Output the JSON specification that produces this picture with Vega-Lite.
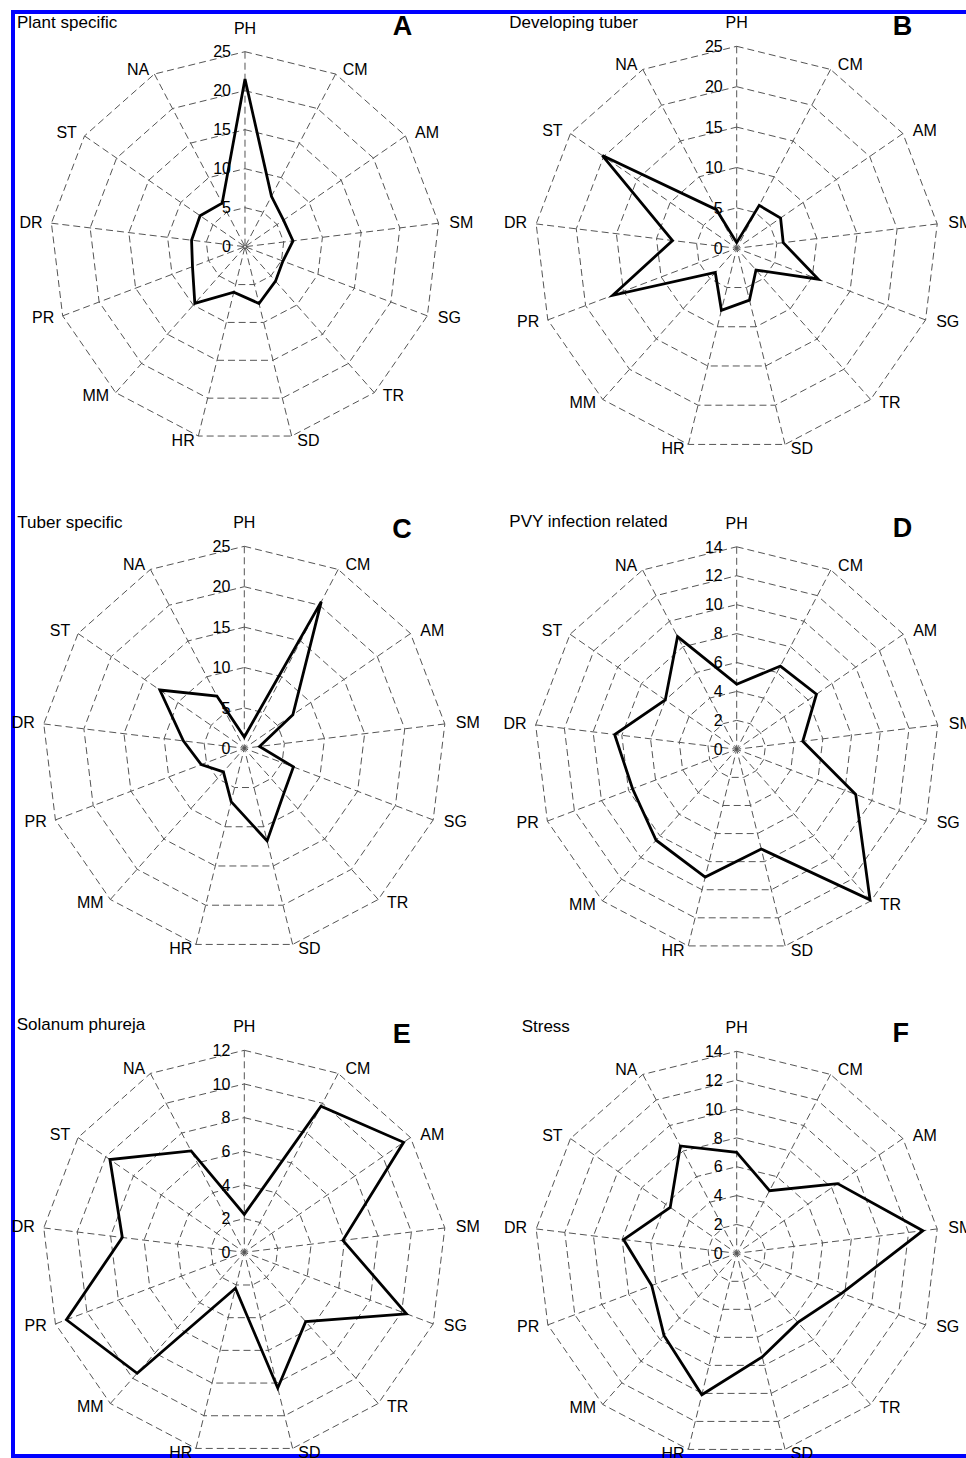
{
  "$schema": "https://vega.github.io/schema/vega-lite/v6.json",
  "width": 956,
  "height": 1444,
  "autosize": {"type": "none"},
  "padding": {"left": 13, "top": 12, "right": -3, "bottom": 2},
  "background": "#ffffff",
  "config": {
    "view": {"stroke": "#0000ff", "strokeWidth": 4},
    "text": {"font": "Liberation Sans", "color": "#000000"}
  },
  "datasets": {
    "axes": [
      {"axis": "PH", "k": 0}, {"axis": "CM", "k": 1}, {"axis": "AM", "k": 2}, {"axis": "SM", "k": 3},
      {"axis": "SG", "k": 4}, {"axis": "TR", "k": 5}, {"axis": "SD", "k": 6}, {"axis": "HR", "k": 7},
      {"axis": "MM", "k": 8}, {"axis": "PR", "k": 9}, {"axis": "DR", "k": 10}, {"axis": "ST", "k": 11},
      {"axis": "NA", "k": 12}
    ],
    "panels": [
      {"panel": "A", "title": "Plant specific", "letter": "A"},
      {"panel": "B", "title": "Developing tuber", "letter": "B"},
      {"panel": "C", "title": "Tuber specific", "letter": "C"},
      {"panel": "D", "title": "PVY infection related", "letter": "D"},
      {"panel": "E", "title": "Solanum phureja", "letter": "E"},
      {"panel": "F", "title": "Stress", "letter": "F"}
    ],
    "rings": [
      {"panel": "A", "level": 0, "k": [0,1,2,3,4,5,6,7,8,9,10,11,12]},
      {"panel": "A", "level": 5, "k": [0,1,2,3,4,5,6,7,8,9,10,11,12]},
      {"panel": "A", "level": 10, "k": [0,1,2,3,4,5,6,7,8,9,10,11,12]},
      {"panel": "A", "level": 15, "k": [0,1,2,3,4,5,6,7,8,9,10,11,12]},
      {"panel": "A", "level": 20, "k": [0,1,2,3,4,5,6,7,8,9,10,11,12]},
      {"panel": "A", "level": 25, "k": [0,1,2,3,4,5,6,7,8,9,10,11,12]},
      {"panel": "B", "level": 0, "k": [0,1,2,3,4,5,6,7,8,9,10,11,12]},
      {"panel": "B", "level": 5, "k": [0,1,2,3,4,5,6,7,8,9,10,11,12]},
      {"panel": "B", "level": 10, "k": [0,1,2,3,4,5,6,7,8,9,10,11,12]},
      {"panel": "B", "level": 15, "k": [0,1,2,3,4,5,6,7,8,9,10,11,12]},
      {"panel": "B", "level": 20, "k": [0,1,2,3,4,5,6,7,8,9,10,11,12]},
      {"panel": "B", "level": 25, "k": [0,1,2,3,4,5,6,7,8,9,10,11,12]},
      {"panel": "C", "level": 0, "k": [0,1,2,3,4,5,6,7,8,9,10,11,12]},
      {"panel": "C", "level": 5, "k": [0,1,2,3,4,5,6,7,8,9,10,11,12]},
      {"panel": "C", "level": 10, "k": [0,1,2,3,4,5,6,7,8,9,10,11,12]},
      {"panel": "C", "level": 15, "k": [0,1,2,3,4,5,6,7,8,9,10,11,12]},
      {"panel": "C", "level": 20, "k": [0,1,2,3,4,5,6,7,8,9,10,11,12]},
      {"panel": "C", "level": 25, "k": [0,1,2,3,4,5,6,7,8,9,10,11,12]},
      {"panel": "D", "level": 0, "k": [0,1,2,3,4,5,6,7,8,9,10,11,12]},
      {"panel": "D", "level": 2, "k": [0,1,2,3,4,5,6,7,8,9,10,11,12]},
      {"panel": "D", "level": 4, "k": [0,1,2,3,4,5,6,7,8,9,10,11,12]},
      {"panel": "D", "level": 6, "k": [0,1,2,3,4,5,6,7,8,9,10,11,12]},
      {"panel": "D", "level": 8, "k": [0,1,2,3,4,5,6,7,8,9,10,11,12]},
      {"panel": "D", "level": 10, "k": [0,1,2,3,4,5,6,7,8,9,10,11,12]},
      {"panel": "D", "level": 12, "k": [0,1,2,3,4,5,6,7,8,9,10,11,12]},
      {"panel": "D", "level": 14, "k": [0,1,2,3,4,5,6,7,8,9,10,11,12]},
      {"panel": "E", "level": 0, "k": [0,1,2,3,4,5,6,7,8,9,10,11,12]},
      {"panel": "E", "level": 2, "k": [0,1,2,3,4,5,6,7,8,9,10,11,12]},
      {"panel": "E", "level": 4, "k": [0,1,2,3,4,5,6,7,8,9,10,11,12]},
      {"panel": "E", "level": 6, "k": [0,1,2,3,4,5,6,7,8,9,10,11,12]},
      {"panel": "E", "level": 8, "k": [0,1,2,3,4,5,6,7,8,9,10,11,12]},
      {"panel": "E", "level": 10, "k": [0,1,2,3,4,5,6,7,8,9,10,11,12]},
      {"panel": "E", "level": 12, "k": [0,1,2,3,4,5,6,7,8,9,10,11,12]},
      {"panel": "F", "level": 0, "k": [0,1,2,3,4,5,6,7,8,9,10,11,12]},
      {"panel": "F", "level": 2, "k": [0,1,2,3,4,5,6,7,8,9,10,11,12]},
      {"panel": "F", "level": 4, "k": [0,1,2,3,4,5,6,7,8,9,10,11,12]},
      {"panel": "F", "level": 6, "k": [0,1,2,3,4,5,6,7,8,9,10,11,12]},
      {"panel": "F", "level": 8, "k": [0,1,2,3,4,5,6,7,8,9,10,11,12]},
      {"panel": "F", "level": 10, "k": [0,1,2,3,4,5,6,7,8,9,10,11,12]},
      {"panel": "F", "level": 12, "k": [0,1,2,3,4,5,6,7,8,9,10,11,12]},
      {"panel": "F", "level": 14, "k": [0,1,2,3,4,5,6,7,8,9,10,11,12]}
    ],
    "profiles": [
      {"panel": "A", "axis": "PH", "k": 0, "value": 21.5},
      {"panel": "A", "axis": "CM", "k": 1, "value": 7.3},
      {"panel": "A", "axis": "AM", "k": 2, "value": 6.0},
      {"panel": "A", "axis": "SM", "k": 3, "value": 6.2},
      {"panel": "A", "axis": "SG", "k": 4, "value": 5.2},
      {"panel": "A", "axis": "TR", "k": 5, "value": 5.9},
      {"panel": "A", "axis": "SD", "k": 6, "value": 7.5},
      {"panel": "A", "axis": "HR", "k": 7, "value": 6.0},
      {"panel": "A", "axis": "MM", "k": 8, "value": 9.7},
      {"panel": "A", "axis": "PR", "k": 9, "value": 7.2},
      {"panel": "A", "axis": "DR", "k": 10, "value": 6.9},
      {"panel": "A", "axis": "ST", "k": 11, "value": 7.0},
      {"panel": "A", "axis": "NA", "k": 12, "value": 6.3},
      {"panel": "B", "axis": "PH", "k": 0, "value": 0.7},
      {"panel": "B", "axis": "CM", "k": 1, "value": 6.0},
      {"panel": "B", "axis": "AM", "k": 2, "value": 6.6},
      {"panel": "B", "axis": "SM", "k": 3, "value": 5.8},
      {"panel": "B", "axis": "SG", "k": 4, "value": 10.8},
      {"panel": "B", "axis": "TR", "k": 5, "value": 3.6},
      {"panel": "B", "axis": "SD", "k": 6, "value": 6.6},
      {"panel": "B", "axis": "HR", "k": 7, "value": 7.9},
      {"panel": "B", "axis": "MM", "k": 8, "value": 4.0},
      {"panel": "B", "axis": "PR", "k": 9, "value": 16.4},
      {"panel": "B", "axis": "DR", "k": 10, "value": 8.0},
      {"panel": "B", "axis": "ST", "k": 11, "value": 20.2},
      {"panel": "B", "axis": "NA", "k": 12, "value": 5.4},
      {"panel": "C", "axis": "PH", "k": 0, "value": 1.4},
      {"panel": "C", "axis": "CM", "k": 1, "value": 20.5},
      {"panel": "C", "axis": "AM", "k": 2, "value": 7.3},
      {"panel": "C", "axis": "SM", "k": 3, "value": 1.9},
      {"panel": "C", "axis": "SG", "k": 4, "value": 6.5},
      {"panel": "C", "axis": "TR", "k": 5, "value": 7.4},
      {"panel": "C", "axis": "SD", "k": 6, "value": 11.8},
      {"panel": "C", "axis": "HR", "k": 7, "value": 6.8},
      {"panel": "C", "axis": "MM", "k": 8, "value": 3.9},
      {"panel": "C", "axis": "PR", "k": 9, "value": 5.7},
      {"panel": "C", "axis": "DR", "k": 10, "value": 7.6},
      {"panel": "C", "axis": "ST", "k": 11, "value": 12.7},
      {"panel": "C", "axis": "NA", "k": 12, "value": 7.3},
      {"panel": "D", "axis": "PH", "k": 0, "value": 4.5},
      {"panel": "D", "axis": "CM", "k": 1, "value": 6.5},
      {"panel": "D", "axis": "AM", "k": 2, "value": 6.7},
      {"panel": "D", "axis": "SM", "k": 3, "value": 4.6},
      {"panel": "D", "axis": "SG", "k": 4, "value": 8.8},
      {"panel": "D", "axis": "TR", "k": 5, "value": 13.9},
      {"panel": "D", "axis": "SD", "k": 6, "value": 7.1},
      {"panel": "D", "axis": "HR", "k": 7, "value": 9.1},
      {"panel": "D", "axis": "MM", "k": 8, "value": 8.4},
      {"panel": "D", "axis": "PR", "k": 9, "value": 7.7},
      {"panel": "D", "axis": "DR", "k": 10, "value": 8.5},
      {"panel": "D", "axis": "ST", "k": 11, "value": 6.0},
      {"panel": "D", "axis": "NA", "k": 12, "value": 8.8},
      {"panel": "E", "axis": "PH", "k": 0, "value": 2.25},
      {"panel": "E", "axis": "CM", "k": 1, "value": 9.8},
      {"panel": "E", "axis": "AM", "k": 2, "value": 11.5},
      {"panel": "E", "axis": "SM", "k": 3, "value": 5.9},
      {"panel": "E", "axis": "SG", "k": 4, "value": 10.3},
      {"panel": "E", "axis": "TR", "k": 5, "value": 5.5},
      {"panel": "E", "axis": "SD", "k": 6, "value": 8.3},
      {"panel": "E", "axis": "HR", "k": 7, "value": 2.2},
      {"panel": "E", "axis": "MM", "k": 8, "value": 9.6},
      {"panel": "E", "axis": "PR", "k": 9, "value": 11.3},
      {"panel": "E", "axis": "DR", "k": 10, "value": 7.3},
      {"panel": "E", "axis": "ST", "k": 11, "value": 9.7},
      {"panel": "E", "axis": "NA", "k": 12, "value": 6.8},
      {"panel": "F", "axis": "PH", "k": 0, "value": 7.0},
      {"panel": "F", "axis": "CM", "k": 1, "value": 4.9},
      {"panel": "F", "axis": "AM", "k": 2, "value": 8.5},
      {"panel": "F", "axis": "SM", "k": 3, "value": 13.0},
      {"panel": "F", "axis": "SG", "k": 4, "value": 7.8},
      {"panel": "F", "axis": "TR", "k": 5, "value": 6.4},
      {"panel": "F", "axis": "SD", "k": 6, "value": 7.4},
      {"panel": "F", "axis": "HR", "k": 7, "value": 10.1},
      {"panel": "F", "axis": "MM", "k": 8, "value": 7.6},
      {"panel": "F", "axis": "PR", "k": 9, "value": 6.3},
      {"panel": "F", "axis": "DR", "k": 10, "value": 7.9},
      {"panel": "F", "axis": "ST", "k": 11, "value": 5.6},
      {"panel": "F", "axis": "NA", "k": 12, "value": 8.4}
    ]
  },
  "resolve": {"scale": {"x": "independent", "y": "independent"}},
  "layer": [
    {
      "encoding": {
        "x": {"field": "px", "type": "quantitative", "axis": null, "scale": {"domain": [-1.18974, 3.71282], "nice": false, "zero": false}},
        "y": {"field": "py", "type": "quantitative", "axis": null, "scale": {"domain": [-6.20154, 1.20359], "nice": false, "zero": false}}
      },
      "layer": [
        {"data": {"name": "rings"}, "transform": [{"filter": "datum.panel === 'A' && datum.level > 0"}, {"flatten": ["k"]}, {"calculate": "datum.level / 25 * sin(datum.k * 2 * PI / 13)", "as": "px"}, {"calculate": "datum.level / 25 * cos(datum.k * 2 * PI / 13)", "as": "py"}],
         "mark": {"type": "line", "interpolate": "linear-closed", "stroke": "#555555", "strokeWidth": 1, "strokeDash": [7, 4]},
         "encoding": {"detail": {"field": "level", "type": "nominal"}, "order": {"field": "k", "type": "quantitative"}}},
        {"data": {"name": "axes"}, "transform": [{"calculate": "sin(datum.k * 2 * PI / 13)", "as": "px"}, {"calculate": "cos(datum.k * 2 * PI / 13)", "as": "py"}],
         "mark": {"type": "rule", "stroke": "#555555", "strokeWidth": 1, "strokeDash": [7, 4]},
         "encoding": {"x2": {"datum": 0}, "y2": {"datum": 0}}},
        {"data": {"name": "profiles"}, "transform": [{"filter": "datum.panel === 'A'"}, {"calculate": "datum.value / 25 * sin(datum.k * 2 * PI / 13)", "as": "px"}, {"calculate": "datum.value / 25 * cos(datum.k * 2 * PI / 13)", "as": "py"}],
         "mark": {"type": "line", "interpolate": "linear-closed", "stroke": "#000000", "strokeWidth": 2.8, "strokeJoin": "miter"},
         "encoding": {"order": {"field": "k", "type": "quantitative"}}},
        {"data": {"name": "axes"}, "transform": [{"filter": "datum.k >= 1 && datum.k <= 6"}, {"calculate": "1.035 * sin(datum.k * 2 * PI / 13)", "as": "px"}, {"calculate": "1.025 * cos(datum.k * 2 * PI / 13)", "as": "py"}],
         "mark": {"type": "text", "align": "left", "baseline": "alphabetic", "dx": 4, "dy": 5, "fontSize": 16},
         "encoding": {"text": {"field": "axis", "type": "nominal"}}},
        {"data": {"name": "axes"}, "transform": [{"filter": "datum.k >= 7"}, {"calculate": "1.035 * sin(datum.k * 2 * PI / 13)", "as": "px"}, {"calculate": "1.025 * cos(datum.k * 2 * PI / 13)", "as": "py"}],
         "mark": {"type": "text", "align": "right", "baseline": "alphabetic", "dx": -2, "dy": 5, "fontSize": 16},
         "encoding": {"text": {"field": "axis", "type": "nominal"}}},
        {"data": {"name": "axes"}, "transform": [{"filter": "datum.k === 0"}, {"calculate": "0", "as": "px"}, {"calculate": "1.025", "as": "py"}],
         "mark": {"type": "text", "align": "center", "baseline": "alphabetic", "dy": -13, "fontSize": 16},
         "encoding": {"text": {"field": "axis", "type": "nominal"}}},
        {"data": {"name": "rings"}, "transform": [{"filter": "datum.panel === 'A'"}, {"calculate": "0", "as": "px"}, {"calculate": "datum.level / 25", "as": "py"}],
         "mark": {"type": "text", "align": "right", "baseline": "alphabetic", "dx": -14, "dy": 5.7, "fontSize": 16},
         "encoding": {"text": {"field": "level", "type": "nominal"}}},
        {"data": {"name": "panels"}, "transform": [{"filter": "datum.panel === 'A'"}, {"calculate": "-1.1692", "as": "px"}, {"calculate": "1.12", "as": "py"}],
         "mark": {"type": "text", "align": "left", "baseline": "alphabetic", "fontSize": 17},
         "encoding": {"text": {"field": "title", "type": "nominal"}}},
        {"data": {"name": "panels"}, "transform": [{"filter": "datum.panel === 'A'"}, {"calculate": "0.8077", "as": "px"}, {"calculate": "1.086", "as": "py"}],
         "mark": {"type": "text", "align": "center", "baseline": "alphabetic", "fontSize": 27, "fontWeight": "bold"},
         "encoding": {"text": {"field": "letter", "type": "nominal"}}}
      ]
    },
    {
      "encoding": {
        "x": {"field": "px", "type": "quantitative", "axis": null, "scale": {"domain": [-3.58267, 1.15], "nice": false, "zero": false}},
        "y": {"field": "py", "type": "quantitative", "axis": null, "scale": {"domain": [-5.97871, 1.16980], "nice": false, "zero": false}}
      },
      "layer": [
        {"data": {"name": "rings"}, "transform": [{"filter": "datum.panel === 'B' && datum.level > 0"}, {"flatten": ["k"]}, {"calculate": "datum.level / 25 * sin(datum.k * 2 * PI / 13)", "as": "px"}, {"calculate": "datum.level / 25 * cos(datum.k * 2 * PI / 13)", "as": "py"}],
         "mark": {"type": "line", "interpolate": "linear-closed", "stroke": "#555555", "strokeWidth": 1, "strokeDash": [7, 4]},
         "encoding": {"detail": {"field": "level", "type": "nominal"}, "order": {"field": "k", "type": "quantitative"}}},
        {"data": {"name": "axes"}, "transform": [{"calculate": "sin(datum.k * 2 * PI / 13)", "as": "px"}, {"calculate": "cos(datum.k * 2 * PI / 13)", "as": "py"}],
         "mark": {"type": "rule", "stroke": "#555555", "strokeWidth": 1, "strokeDash": [7, 4]},
         "encoding": {"x2": {"datum": 0}, "y2": {"datum": 0}}},
        {"data": {"name": "profiles"}, "transform": [{"filter": "datum.panel === 'B'"}, {"calculate": "datum.value / 25 * sin(datum.k * 2 * PI / 13)", "as": "px"}, {"calculate": "datum.value / 25 * cos(datum.k * 2 * PI / 13)", "as": "py"}],
         "mark": {"type": "line", "interpolate": "linear-closed", "stroke": "#000000", "strokeWidth": 2.8, "strokeJoin": "miter"},
         "encoding": {"order": {"field": "k", "type": "quantitative"}}},
        {"data": {"name": "axes"}, "transform": [{"filter": "datum.k >= 1 && datum.k <= 6"}, {"calculate": "1.035 * sin(datum.k * 2 * PI / 13)", "as": "px"}, {"calculate": "1.025 * cos(datum.k * 2 * PI / 13)", "as": "py"}],
         "mark": {"type": "text", "align": "left", "baseline": "alphabetic", "dx": 4, "dy": 5, "fontSize": 16},
         "encoding": {"text": {"field": "axis", "type": "nominal"}}},
        {"data": {"name": "axes"}, "transform": [{"filter": "datum.k >= 7"}, {"calculate": "1.035 * sin(datum.k * 2 * PI / 13)", "as": "px"}, {"calculate": "1.025 * cos(datum.k * 2 * PI / 13)", "as": "py"}],
         "mark": {"type": "text", "align": "right", "baseline": "alphabetic", "dx": -2, "dy": 5, "fontSize": 16},
         "encoding": {"text": {"field": "axis", "type": "nominal"}}},
        {"data": {"name": "axes"}, "transform": [{"filter": "datum.k === 0"}, {"calculate": "0", "as": "px"}, {"calculate": "1.025", "as": "py"}],
         "mark": {"type": "text", "align": "center", "baseline": "alphabetic", "dy": -13, "fontSize": 16},
         "encoding": {"text": {"field": "axis", "type": "nominal"}}},
        {"data": {"name": "rings"}, "transform": [{"filter": "datum.panel === 'B'"}, {"calculate": "0", "as": "px"}, {"calculate": "datum.level / 25", "as": "py"}],
         "mark": {"type": "text", "align": "right", "baseline": "alphabetic", "dx": -14, "dy": 5.7, "fontSize": 16},
         "encoding": {"text": {"field": "level", "type": "nominal"}}},
        {"data": {"name": "panels"}, "transform": [{"filter": "datum.panel === 'B'"}, {"calculate": "-1.1257", "as": "px"}, {"calculate": "1.089", "as": "py"}],
         "mark": {"type": "text", "align": "left", "baseline": "alphabetic", "fontSize": 17},
         "encoding": {"text": {"field": "title", "type": "nominal"}}},
        {"data": {"name": "panels"}, "transform": [{"filter": "datum.panel === 'B'"}, {"calculate": "0.8208", "as": "px"}, {"calculate": "1.056", "as": "py"}],
         "mark": {"type": "text", "align": "center", "baseline": "alphabetic", "fontSize": 27, "fontWeight": "bold"},
         "encoding": {"text": {"field": "letter", "type": "nominal"}}}
      ]
    },
    {
      "encoding": {
        "x": {"field": "px", "type": "quantitative", "axis": null, "scale": {"domain": [-1.14505, 3.58762], "nice": false, "zero": false}},
        "y": {"field": "py", "type": "quantitative", "axis": null, "scale": {"domain": [-3.50347, 3.64505], "nice": false, "zero": false}}
      },
      "layer": [
        {"data": {"name": "rings"}, "transform": [{"filter": "datum.panel === 'C' && datum.level > 0"}, {"flatten": ["k"]}, {"calculate": "datum.level / 25 * sin(datum.k * 2 * PI / 13)", "as": "px"}, {"calculate": "datum.level / 25 * cos(datum.k * 2 * PI / 13)", "as": "py"}],
         "mark": {"type": "line", "interpolate": "linear-closed", "stroke": "#555555", "strokeWidth": 1, "strokeDash": [7, 4]},
         "encoding": {"detail": {"field": "level", "type": "nominal"}, "order": {"field": "k", "type": "quantitative"}}},
        {"data": {"name": "axes"}, "transform": [{"calculate": "sin(datum.k * 2 * PI / 13)", "as": "px"}, {"calculate": "cos(datum.k * 2 * PI / 13)", "as": "py"}],
         "mark": {"type": "rule", "stroke": "#555555", "strokeWidth": 1, "strokeDash": [7, 4]},
         "encoding": {"x2": {"datum": 0}, "y2": {"datum": 0}}},
        {"data": {"name": "profiles"}, "transform": [{"filter": "datum.panel === 'C'"}, {"calculate": "datum.value / 25 * sin(datum.k * 2 * PI / 13)", "as": "px"}, {"calculate": "datum.value / 25 * cos(datum.k * 2 * PI / 13)", "as": "py"}],
         "mark": {"type": "line", "interpolate": "linear-closed", "stroke": "#000000", "strokeWidth": 2.8, "strokeJoin": "miter"},
         "encoding": {"order": {"field": "k", "type": "quantitative"}}},
        {"data": {"name": "axes"}, "transform": [{"filter": "datum.k >= 1 && datum.k <= 6"}, {"calculate": "1.035 * sin(datum.k * 2 * PI / 13)", "as": "px"}, {"calculate": "1.025 * cos(datum.k * 2 * PI / 13)", "as": "py"}],
         "mark": {"type": "text", "align": "left", "baseline": "alphabetic", "dx": 4, "dy": 5, "fontSize": 16},
         "encoding": {"text": {"field": "axis", "type": "nominal"}}},
        {"data": {"name": "axes"}, "transform": [{"filter": "datum.k >= 7"}, {"calculate": "1.035 * sin(datum.k * 2 * PI / 13)", "as": "px"}, {"calculate": "1.025 * cos(datum.k * 2 * PI / 13)", "as": "py"}],
         "mark": {"type": "text", "align": "right", "baseline": "alphabetic", "dx": -2, "dy": 5, "fontSize": 16},
         "encoding": {"text": {"field": "axis", "type": "nominal"}}},
        {"data": {"name": "axes"}, "transform": [{"filter": "datum.k === 0"}, {"calculate": "0", "as": "px"}, {"calculate": "1.025", "as": "py"}],
         "mark": {"type": "text", "align": "center", "baseline": "alphabetic", "dy": -13, "fontSize": 16},
         "encoding": {"text": {"field": "axis", "type": "nominal"}}},
        {"data": {"name": "rings"}, "transform": [{"filter": "datum.panel === 'C'"}, {"calculate": "0", "as": "px"}, {"calculate": "datum.level / 25", "as": "py"}],
         "mark": {"type": "text", "align": "right", "baseline": "alphabetic", "dx": -14, "dy": 5.7, "fontSize": 16},
         "encoding": {"text": {"field": "level", "type": "nominal"}}},
        {"data": {"name": "panels"}, "transform": [{"filter": "datum.panel === 'C'"}, {"calculate": "-1.1238", "as": "px"}, {"calculate": "1.092", "as": "py"}],
         "mark": {"type": "text", "align": "left", "baseline": "alphabetic", "fontSize": 17},
         "encoding": {"text": {"field": "title", "type": "nominal"}}},
        {"data": {"name": "panels"}, "transform": [{"filter": "datum.panel === 'C'"}, {"calculate": "0.7807", "as": "px"}, {"calculate": "1.04", "as": "py"}],
         "mark": {"type": "text", "align": "center", "baseline": "alphabetic", "fontSize": 27, "fontWeight": "bold"},
         "encoding": {"text": {"field": "letter", "type": "nominal"}}}
      ]
    },
    {
      "encoding": {
        "x": {"field": "px", "type": "quantitative", "axis": null, "scale": {"domain": [-3.57383, 1.14716], "nice": false, "zero": false}},
        "y": {"field": "py", "type": "quantitative", "axis": null, "scale": {"domain": [-3.48988, 3.64099], "nice": false, "zero": false}}
      },
      "layer": [
        {"data": {"name": "rings"}, "transform": [{"filter": "datum.panel === 'D' && datum.level > 0"}, {"flatten": ["k"]}, {"calculate": "datum.level / 14 * sin(datum.k * 2 * PI / 13)", "as": "px"}, {"calculate": "datum.level / 14 * cos(datum.k * 2 * PI / 13)", "as": "py"}],
         "mark": {"type": "line", "interpolate": "linear-closed", "stroke": "#555555", "strokeWidth": 1, "strokeDash": [7, 4]},
         "encoding": {"detail": {"field": "level", "type": "nominal"}, "order": {"field": "k", "type": "quantitative"}}},
        {"data": {"name": "axes"}, "transform": [{"calculate": "sin(datum.k * 2 * PI / 13)", "as": "px"}, {"calculate": "cos(datum.k * 2 * PI / 13)", "as": "py"}],
         "mark": {"type": "rule", "stroke": "#555555", "strokeWidth": 1, "strokeDash": [7, 4]},
         "encoding": {"x2": {"datum": 0}, "y2": {"datum": 0}}},
        {"data": {"name": "profiles"}, "transform": [{"filter": "datum.panel === 'D'"}, {"calculate": "datum.value / 14 * sin(datum.k * 2 * PI / 13)", "as": "px"}, {"calculate": "datum.value / 14 * cos(datum.k * 2 * PI / 13)", "as": "py"}],
         "mark": {"type": "line", "interpolate": "linear-closed", "stroke": "#000000", "strokeWidth": 2.8, "strokeJoin": "miter"},
         "encoding": {"order": {"field": "k", "type": "quantitative"}}},
        {"data": {"name": "axes"}, "transform": [{"filter": "datum.k >= 1 && datum.k <= 6"}, {"calculate": "1.035 * sin(datum.k * 2 * PI / 13)", "as": "px"}, {"calculate": "1.025 * cos(datum.k * 2 * PI / 13)", "as": "py"}],
         "mark": {"type": "text", "align": "left", "baseline": "alphabetic", "dx": 4, "dy": 5, "fontSize": 16},
         "encoding": {"text": {"field": "axis", "type": "nominal"}}},
        {"data": {"name": "axes"}, "transform": [{"filter": "datum.k >= 7"}, {"calculate": "1.035 * sin(datum.k * 2 * PI / 13)", "as": "px"}, {"calculate": "1.025 * cos(datum.k * 2 * PI / 13)", "as": "py"}],
         "mark": {"type": "text", "align": "right", "baseline": "alphabetic", "dx": -2, "dy": 5, "fontSize": 16},
         "encoding": {"text": {"field": "axis", "type": "nominal"}}},
        {"data": {"name": "axes"}, "transform": [{"filter": "datum.k === 0"}, {"calculate": "0", "as": "px"}, {"calculate": "1.025", "as": "py"}],
         "mark": {"type": "text", "align": "center", "baseline": "alphabetic", "dy": -13, "fontSize": 16},
         "encoding": {"text": {"field": "axis", "type": "nominal"}}},
        {"data": {"name": "rings"}, "transform": [{"filter": "datum.panel === 'D'"}, {"calculate": "0", "as": "px"}, {"calculate": "datum.level / 14", "as": "py"}],
         "mark": {"type": "text", "align": "right", "baseline": "alphabetic", "dx": -14, "dy": 5.7, "fontSize": 16},
         "encoding": {"text": {"field": "level", "type": "nominal"}}},
        {"data": {"name": "panels"}, "transform": [{"filter": "datum.panel === 'D'"}, {"calculate": "-1.1230", "as": "px"}, {"calculate": "1.096", "as": "py"}],
         "mark": {"type": "text", "align": "left", "baseline": "alphabetic", "fontSize": 17},
         "encoding": {"text": {"field": "title", "type": "nominal"}}},
        {"data": {"name": "panels"}, "transform": [{"filter": "datum.panel === 'D'"}, {"calculate": "0.8188", "as": "px"}, {"calculate": "1.05", "as": "py"}],
         "mark": {"type": "text", "align": "center", "baseline": "alphabetic", "fontSize": 27, "fontWeight": "bold"},
         "encoding": {"text": {"field": "letter", "type": "nominal"}}}
      ]
    },
    {
      "encoding": {
        "x": {"field": "px", "type": "quantitative", "axis": null, "scale": {"domain": [-1.14505, 3.58762], "nice": false, "zero": false}},
        "y": {"field": "py", "type": "quantitative", "axis": null, "scale": {"domain": [-1.00842, 6.14010], "nice": false, "zero": false}}
      },
      "layer": [
        {"data": {"name": "rings"}, "transform": [{"filter": "datum.panel === 'E' && datum.level > 0"}, {"flatten": ["k"]}, {"calculate": "datum.level / 12 * sin(datum.k * 2 * PI / 13)", "as": "px"}, {"calculate": "datum.level / 12 * cos(datum.k * 2 * PI / 13)", "as": "py"}],
         "mark": {"type": "line", "interpolate": "linear-closed", "stroke": "#555555", "strokeWidth": 1, "strokeDash": [7, 4]},
         "encoding": {"detail": {"field": "level", "type": "nominal"}, "order": {"field": "k", "type": "quantitative"}}},
        {"data": {"name": "axes"}, "transform": [{"calculate": "sin(datum.k * 2 * PI / 13)", "as": "px"}, {"calculate": "cos(datum.k * 2 * PI / 13)", "as": "py"}],
         "mark": {"type": "rule", "stroke": "#555555", "strokeWidth": 1, "strokeDash": [7, 4]},
         "encoding": {"x2": {"datum": 0}, "y2": {"datum": 0}}},
        {"data": {"name": "profiles"}, "transform": [{"filter": "datum.panel === 'E'"}, {"calculate": "datum.value / 12 * sin(datum.k * 2 * PI / 13)", "as": "px"}, {"calculate": "datum.value / 12 * cos(datum.k * 2 * PI / 13)", "as": "py"}],
         "mark": {"type": "line", "interpolate": "linear-closed", "stroke": "#000000", "strokeWidth": 2.8, "strokeJoin": "miter"},
         "encoding": {"order": {"field": "k", "type": "quantitative"}}},
        {"data": {"name": "axes"}, "transform": [{"filter": "datum.k >= 1 && datum.k <= 6"}, {"calculate": "1.035 * sin(datum.k * 2 * PI / 13)", "as": "px"}, {"calculate": "1.025 * cos(datum.k * 2 * PI / 13)", "as": "py"}],
         "mark": {"type": "text", "align": "left", "baseline": "alphabetic", "dx": 4, "dy": 5, "fontSize": 16},
         "encoding": {"text": {"field": "axis", "type": "nominal"}}},
        {"data": {"name": "axes"}, "transform": [{"filter": "datum.k >= 7"}, {"calculate": "1.035 * sin(datum.k * 2 * PI / 13)", "as": "px"}, {"calculate": "1.025 * cos(datum.k * 2 * PI / 13)", "as": "py"}],
         "mark": {"type": "text", "align": "right", "baseline": "alphabetic", "dx": -2, "dy": 5, "fontSize": 16},
         "encoding": {"text": {"field": "axis", "type": "nominal"}}},
        {"data": {"name": "axes"}, "transform": [{"filter": "datum.k === 0"}, {"calculate": "0", "as": "px"}, {"calculate": "1.025", "as": "py"}],
         "mark": {"type": "text", "align": "center", "baseline": "alphabetic", "dy": -13, "fontSize": 16},
         "encoding": {"text": {"field": "axis", "type": "nominal"}}},
        {"data": {"name": "rings"}, "transform": [{"filter": "datum.panel === 'E'"}, {"calculate": "0", "as": "px"}, {"calculate": "datum.level / 12", "as": "py"}],
         "mark": {"type": "text", "align": "right", "baseline": "alphabetic", "dx": -14, "dy": 5.7, "fontSize": 16},
         "encoding": {"text": {"field": "level", "type": "nominal"}}},
        {"data": {"name": "panels"}, "transform": [{"filter": "datum.panel === 'E'"}, {"calculate": "-1.1267", "as": "px"}, {"calculate": "1.1", "as": "py"}],
         "mark": {"type": "text", "align": "left", "baseline": "alphabetic", "fontSize": 17},
         "encoding": {"text": {"field": "title", "type": "nominal"}}},
        {"data": {"name": "panels"}, "transform": [{"filter": "datum.panel === 'E'"}, {"calculate": "0.779", "as": "px"}, {"calculate": "1.035", "as": "py"}],
         "mark": {"type": "text", "align": "center", "baseline": "alphabetic", "fontSize": 27, "fontWeight": "bold"},
         "encoding": {"text": {"field": "letter", "type": "nominal"}}}
      ]
    },
    {
      "encoding": {
        "x": {"field": "px", "type": "quantitative", "axis": null, "scale": {"domain": [-3.58267, 1.15], "nice": false, "zero": false}},
        "y": {"field": "py", "type": "quantitative", "axis": null, "scale": {"domain": [-1.00347, 6.14505], "nice": false, "zero": false}}
      },
      "layer": [
        {"data": {"name": "rings"}, "transform": [{"filter": "datum.panel === 'F' && datum.level > 0"}, {"flatten": ["k"]}, {"calculate": "datum.level / 14 * sin(datum.k * 2 * PI / 13)", "as": "px"}, {"calculate": "datum.level / 14 * cos(datum.k * 2 * PI / 13)", "as": "py"}],
         "mark": {"type": "line", "interpolate": "linear-closed", "stroke": "#555555", "strokeWidth": 1, "strokeDash": [7, 4]},
         "encoding": {"detail": {"field": "level", "type": "nominal"}, "order": {"field": "k", "type": "quantitative"}}},
        {"data": {"name": "axes"}, "transform": [{"calculate": "sin(datum.k * 2 * PI / 13)", "as": "px"}, {"calculate": "cos(datum.k * 2 * PI / 13)", "as": "py"}],
         "mark": {"type": "rule", "stroke": "#555555", "strokeWidth": 1, "strokeDash": [7, 4]},
         "encoding": {"x2": {"datum": 0}, "y2": {"datum": 0}}},
        {"data": {"name": "profiles"}, "transform": [{"filter": "datum.panel === 'F'"}, {"calculate": "datum.value / 14 * sin(datum.k * 2 * PI / 13)", "as": "px"}, {"calculate": "datum.value / 14 * cos(datum.k * 2 * PI / 13)", "as": "py"}],
         "mark": {"type": "line", "interpolate": "linear-closed", "stroke": "#000000", "strokeWidth": 2.8, "strokeJoin": "miter"},
         "encoding": {"order": {"field": "k", "type": "quantitative"}}},
        {"data": {"name": "axes"}, "transform": [{"filter": "datum.k >= 1 && datum.k <= 6"}, {"calculate": "1.035 * sin(datum.k * 2 * PI / 13)", "as": "px"}, {"calculate": "1.025 * cos(datum.k * 2 * PI / 13)", "as": "py"}],
         "mark": {"type": "text", "align": "left", "baseline": "alphabetic", "dx": 4, "dy": 5, "fontSize": 16},
         "encoding": {"text": {"field": "axis", "type": "nominal"}}},
        {"data": {"name": "axes"}, "transform": [{"filter": "datum.k >= 7"}, {"calculate": "1.035 * sin(datum.k * 2 * PI / 13)", "as": "px"}, {"calculate": "1.025 * cos(datum.k * 2 * PI / 13)", "as": "py"}],
         "mark": {"type": "text", "align": "right", "baseline": "alphabetic", "dx": -2, "dy": 5, "fontSize": 16},
         "encoding": {"text": {"field": "axis", "type": "nominal"}}},
        {"data": {"name": "axes"}, "transform": [{"filter": "datum.k === 0"}, {"calculate": "0", "as": "px"}, {"calculate": "1.025", "as": "py"}],
         "mark": {"type": "text", "align": "center", "baseline": "alphabetic", "dy": -13, "fontSize": 16},
         "encoding": {"text": {"field": "axis", "type": "nominal"}}},
        {"data": {"name": "rings"}, "transform": [{"filter": "datum.panel === 'F'"}, {"calculate": "0", "as": "px"}, {"calculate": "datum.level / 14", "as": "py"}],
         "mark": {"type": "text", "align": "right", "baseline": "alphabetic", "dx": -14, "dy": 5.7, "fontSize": 16},
         "encoding": {"text": {"field": "level", "type": "nominal"}}},
        {"data": {"name": "panels"}, "transform": [{"filter": "datum.panel === 'F'"}, {"calculate": "-1.0644", "as": "px"}, {"calculate": "1.097", "as": "py"}],
         "mark": {"type": "text", "align": "left", "baseline": "alphabetic", "fontSize": 17},
         "encoding": {"text": {"field": "title", "type": "nominal"}}},
        {"data": {"name": "panels"}, "transform": [{"filter": "datum.panel === 'F'"}, {"calculate": "0.8125", "as": "px"}, {"calculate": "1.045", "as": "py"}],
         "mark": {"type": "text", "align": "center", "baseline": "alphabetic", "fontSize": 27, "fontWeight": "bold"},
         "encoding": {"text": {"field": "letter", "type": "nominal"}}}
      ]
    }
  ]
}
